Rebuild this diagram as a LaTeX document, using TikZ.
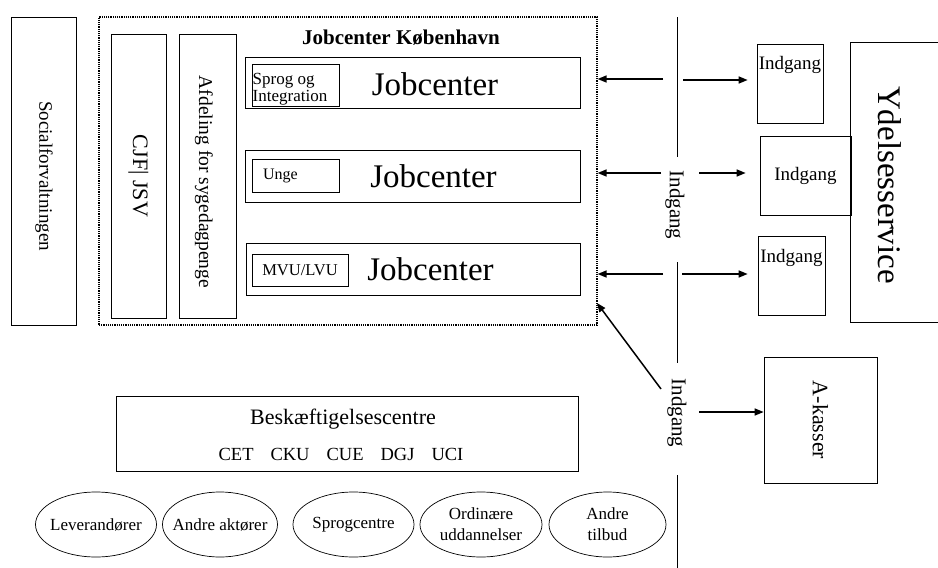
\documentclass[tikz,border=0pt]{standalone}
\usepackage{fontspec}
\setmainfont{Liberation Serif}
\usetikzlibrary{arrows.meta,shapes.geometric}

\begin{document}
\begin{tikzpicture}[x=1pt, y=-1pt,
  box/.style={rectangle, draw, line width=0.7pt, inner sep=0pt},
  oval/.style={ellipse, draw, line width=0.7pt, minimum height=65pt, inner sep=0pt, align=center, font=\fontsize{17}{21}\selectfont},
  arr/.style={line width=1.5pt, -{Triangle[length=9pt, width=7pt]}},
  big/.style={font=\fontsize{33}{36}\selectfont},
  gate/.style={font=\fontsize{19}{22}\selectfont}]
\useasboundingbox (0,0) rectangle (938,568);

% Jobcenter og venstre side
\node[box, minimum width=65pt, minimum height=308pt] (social) at (43.5,171) {};
\node[font=\fontsize{19}{22}\selectfont] (socialt) at (44,176) {\rotatebox{-90}{Socialforvaltningen}};
\node[draw, densely dotted, line width=1.2pt, minimum width=498pt, minimum height=308pt] (jc) at (348,171) {};
\node[font=\bfseries\fontsize{21}{24}\selectfont] (title) at (401,38) {Jobcenter København};
\node[box, minimum width=55pt, minimum height=284pt, font=\fontsize{22}{24}\selectfont] (cjf) at (138.5,176) {\rotatebox{-90}{CJF| JSV}};
\node[box, minimum width=57pt, minimum height=284pt] (afd) at (207.5,176) {};
\node[font=\fontsize{19.5}{22}\selectfont] (afdt) at (204,182) {\rotatebox{-90}{Afdeling for sygedagpenge}};

\node[box, minimum width=335pt, minimum height=51pt] (row1) at (412.5,82.5) {};
\node[box, minimum width=335pt, minimum height=52pt] (row2) at (412.5,176) {};
\node[box, minimum width=334pt, minimum height=52pt] (row3) at (413,269) {};
\node[box, minimum width=87pt, minimum height=42pt] (sprog) at (295.5,85) {};
\node[anchor=west, inner sep=0pt, align=left, font=\fontsize{17}{17.4}\selectfont] (sprogt) at (252.5,89.2) {Sprog og\\Integration};
\node[box, minimum width=87pt, minimum height=33pt, text width=65pt, inner xsep=11pt, align=left, font=\fontsize{16}{19}\selectfont] (unge) at (295.5,175.5) {Unge};
\node[box, minimum width=96pt, minimum height=32pt, font=\fontsize{16.5}{19}\selectfont] (mvu) at (300,270) {MVU/LVU};
\node[big] (jct1) at (435,84.5) {Jobcenter};
\node[big] (jct2) at (433.5,176) {Jobcenter};
\node[big] (jct3) at (430.5,269) {Jobcenter};

% indgange
\coordinate (v0) at (677,17);
\coordinate (v1) at (677,157);
\coordinate (v2) at (677,262);
\coordinate (v3) at (677,363);
\coordinate (v4) at (677,475);
\coordinate (v5) at (677,568);
\draw[line width=0.7pt] (v0) -- (v1) (v2) -- (v3) (v4) -- (v5);
\node[font=\fontsize{21}{24}\selectfont] (ig1) at (675,205) {\rotatebox{-90}{Indgang}};
\node[font=\fontsize{21}{24}\selectfont] (ig2) at (677,413) {\rotatebox{-90}{Indgang}};

\node[box, minimum width=66pt, minimum height=79pt] (ind1) at (790,83.5) {};
\node[box, gate, minimum width=91pt, minimum height=79pt] (ind2) at (805.5,175.5) {Indgang};
\node[box, minimum width=67pt, minimum height=79pt] (ind3) at (791.5,275.5) {};
\node[gate] (ind1t) at (790,64.5) {Indgang};
\node[gate] (ind3t) at (791.5,257.5) {Indgang};
\node[box, minimum width=95pt, minimum height=280pt] (ydel) at (897.5,182) {};
\node[big] (ydelt) at (890,185) {\rotatebox{-90}{Ydelsesservice}};
\node[box, minimum width=113pt, minimum height=126pt, font=\fontsize{22}{24}\selectfont] (akas) at (820.5,420) {\rotatebox{-90}{A-kasser}};

% pile
\coordinate (l1) at (663,79);
\coordinate (l2) at (661,173);
\coordinate (l3) at (663,274);
\coordinate (r1) at (683,80);
\coordinate (r2) at (699,173);
\coordinate (r3) at (682,274);
\coordinate (d0) at (661,389);
\coordinate (d1) at (597,303);
\coordinate (k0) at (699,412);
\draw[arr] (l1) -- (l1 -| jc.east);
\draw[arr] (l2) -- (l2 -| jc.east);
\draw[arr] (l3) -- (l3 -| jc.east);
\draw[arr, shorten >=9pt] (r1) -- (r1 -| ind1.west);
\draw[arr, shorten >=14pt] (r2) -- (r2 -| ind2.west);
\draw[arr, shorten >=10pt] (r3) -- (r3 -| ind3.west);
\draw[arr] (d0) -- (d1);
\draw[arr] (k0) -- (k0 -| akas.west);

% beskaeftigelse og tilbud
\node[box, minimum width=462pt, minimum height=75pt] (besk) at (347,433.5) {};
\node[font=\fontsize{22}{24}\selectfont] (beskt) at (343,419) {Beskæftigelsescentre};
\node[font=\fontsize{18.5}{20}\selectfont] (beskc) at (341,454) {CET\hspace{17pt}CKU\hspace{17pt}CUE\hspace{17pt}DGJ\hspace{17pt}UCI};
\node[oval, minimum width=121pt] (lev) at (96,524.5) {\makebox[0pt]{Leverandører}};
\node[oval, minimum width=115pt] (aktor) at (220,524.5) {\makebox[0pt]{Andre aktører}};
\node[oval, minimum width=121pt] (sprogc) at (353.5,524.5) {\makebox[0pt]{Sprogcentre}};
\node[oval, minimum width=122pt] (udd) at (481,524.5) {\makebox[0pt]{Ordinære}\\\makebox[0pt]{uddannelser}};
\node[oval, minimum width=117pt] (tilbud) at (607.5,524.5) {\makebox[0pt]{Andre}\\\makebox[0pt]{tilbud}};
\end{tikzpicture}
\end{document}
